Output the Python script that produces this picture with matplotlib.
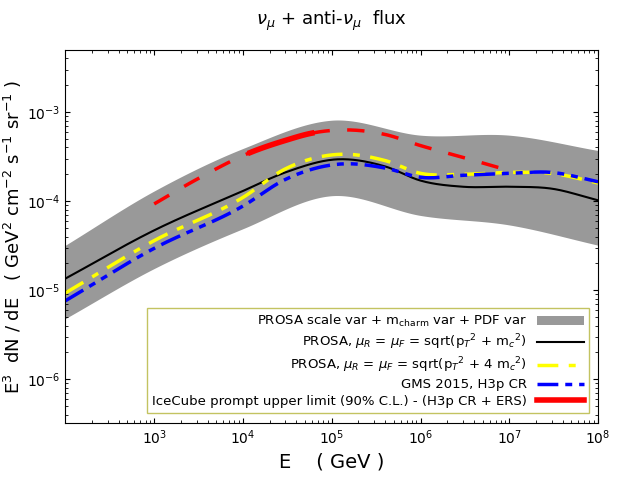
import numpy as np
import matplotlib.pyplot as plt

# values (E in GeV, flux in GeV^2 cm^-2 s^-1 sr^-1)
e_pts = [1e2, 1e3, 1e4, 1e5, 1e6, 1e7, 1e8]
band_lo = [4.8e-6, 1.75e-5, 4.9e-5, 1.15e-4, 6.9e-5, 5.4e-5, 3.2e-5]
band_hi = [3.2e-5, 1.3e-4, 3.9e-4, 8.1e-4, 5.5e-4, 5.5e-4, 3.7e-4]

e_fine = [1e2, 1e3, 1e4, 3e4, 1.2e5, 4e5, 1e6, 3e6, 1e7, 3e7, 1e8]
prosa = [1.35e-5, 4.7e-5, 1.3e-4, 2.1e-4, 2.95e-4, 2.45e-4, 1.7e-4, 1.45e-4, 1.45e-4, 1.38e-4, 1.02e-4]
prosa4 = [9.3e-6, 3.6e-5, 1.1e-4, 2.3e-4, 3.35e-4, 2.85e-4, 2.05e-4, 2.0e-4, 2.1e-4, 2.05e-4, 1.6e-4]
gms = [7.6e-6, 2.95e-5, 8.8e-5, 1.75e-4, 2.6e-4, 2.35e-4, 1.85e-4, 1.95e-4, 2.05e-4, 2.1e-4, 1.65e-4]

ice_e = [1e3, 3e3, 1.2e4, 3e4, 6e4, 1.5e5, 4e5, 1e6, 3e6, 1e7]
ice = [9.3e-5, 1.75e-4, 3.5e-4, 4.8e-4, 5.8e-4, 6.3e-4, 5.6e-4, 4.2e-4, 3.1e-4, 2.2e-4]


def smooth(x, y, n=400):
    # cubic Hermite through the points in log-log space
    lx, ly = np.log10(x), np.log10(y)
    m = np.gradient(ly, lx)
    xs = np.linspace(lx[0], lx[-1], n)
    i = np.clip(np.searchsorted(lx, xs) - 1, 0, len(lx) - 2)
    h = lx[i + 1] - lx[i]
    t = (xs - lx[i]) / h
    h00 = 2 * t**3 - 3 * t**2 + 1
    h10 = t**3 - 2 * t**2 + t
    h01 = -2 * t**3 + 3 * t**2
    h11 = t**3 - t**2
    ys = h00 * ly[i] + h10 * h * m[i] + h01 * ly[i + 1] + h11 * h * m[i + 1]
    return 10**xs, 10**ys


fig, ax = plt.subplots(figsize=(6.23, 4.98), dpi=100)
fig.subplots_adjust(left=0.105, right=0.96, top=0.9, bottom=0.15)

bx, blo = smooth(e_pts, band_lo)
_, bhi = smooth(e_pts, band_hi)
ax.fill_between(bx, blo, bhi, color='#999999', lw=0, label=r'PROSA scale var + m$_{\rm charm}$ var + PDF var')

x, y = smooth(e_fine, prosa)
ax.plot(x, y, color='black', lw=1.5, label=r'PROSA, $\mu_R$ = $\mu_F$ = sqrt(p$_T$$^2$ + m$_c$$^2$)')
x, y = smooth(e_fine, prosa4)
ax.plot(x, y, color='yellow', lw=2.5, dashes=(6, 3, 2, 3),
        label=r'PROSA, $\mu_R$ = $\mu_F$ = sqrt(p$_T$$^2$ + 4 m$_c$$^2$)')
x, y = smooth(e_fine, gms)
ax.plot(x, y, color='blue', lw=2.5, dashes=(6, 2, 2, 2, 2, 2), label='GMS 2015, H3p CR')

x, y = smooth(ice_e, ice)
solid = (x >= 1.2e4) & (x <= 6e4)
ax.plot(x[x <= 1.2e4], y[x <= 1.2e4], color='red', lw=2.5, dashes=(5, 5))
ax.plot(x[x >= 6e4], y[x >= 6e4], color='red', lw=2.5, dashes=(5, 5))
ax.plot(x[solid], y[solid], color='red', lw=4,
        label='IceCube prompt upper limit (90% C.L.) - (H3p CR + ERS)')

ax.set_xscale('log')
ax.set_yscale('log')
ax.set_xlim(1e2, 1e8)
ax.set_ylim(3.2e-7, 5e-3)
ax.set_xticks([1e3, 1e4, 1e5, 1e6, 1e7, 1e8])
ax.tick_params(which='both', direction='in', top=True, right=True, labelsize=10)
ax.set_xlabel('E    ( GeV )', fontsize=14)
ax.set_ylabel(r'E$^3$  dN / dE   ( GeV$^2$ cm$^{-2}$ s$^{-1}$ sr$^{-1}$ )', fontsize=13, labelpad=2)
ax.set_title(r'$\nu_\mu$ + anti-$\nu_\mu$  flux', fontsize=13, pad=18)

leg = ax.legend(loc='lower right', bbox_to_anchor=(0.995, 0.01), fontsize=9.5, frameon=True,
                fancybox=False, edgecolor='#b5b53a', markerfirst=False, handlelength=3.5,
                labelspacing=0.25, borderpad=0.4)
leg.get_frame().set_linewidth(1.0)
for t in leg.get_texts():
    t.set_ha('right')
leg._legend_box.align = 'right'

fig.savefig('out.png', dpi=100)
